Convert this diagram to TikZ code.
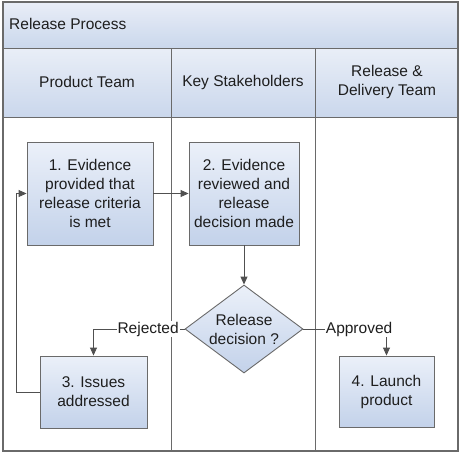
\documentclass[tikz,border=0pt]{standalone}
\usepackage{fontspec}
\setmainfont{Liberation Sans}
\usetikzlibrary{shapes.geometric,arrows.meta}
\definecolor{edge}{HTML}{6A6A6A}
\definecolor{lnk}{HTML}{505050}
\definecolor{gtop}{HTML}{EBF0F9}
\definecolor{gbot}{HTML}{C3D2EA}
\definecolor{htop}{HTML}{E9EEF7}
\definecolor{hbot}{HTML}{CAD7EC}
\definecolor{txt}{HTML}{1E1E1E}
\begin{document}
\begin{tikzpicture}[x=1pt,y=-1pt,
  font=\fontsize{15.5}{19}\selectfont,
  stepbox/.style={draw=edge, line width=0.9pt, top color=gtop, bottom color=gbot,
    align=center, text=txt, inner sep=0pt},
  conn/.style={draw=lnk, line width=0.9pt, -{Triangle[length=8pt,width=7pt]}},
  lbl/.style={fill=white, inner sep=1pt, text=txt},
  lane/.style={draw=edge, line width=0.9pt},
  hdr/.style={text=txt, align=center, inner sep=0pt}]
\useasboundingbox (0,0) rectangle (460,453);
% bands
\fill[top color=htop, bottom color=hbot] (3,2) rectangle (458,48);
\fill[top color=htop, bottom color=hbot] (3,48) rectangle (458,117);
\draw[lane] (3,48) -- (458,48);
\draw[lane] (3,117) -- (458,117);
\draw[lane] (171,48) -- (171,451);
\draw[lane] (315,48) -- (315,451);
\draw[draw=edge, line width=1.8pt] (3,2) rectangle (458,451);
% headers
\node[hdr, anchor=west] (title) at (9,24) {Release Process};
\node[hdr] (h1) at (87,82) {Product Team};
\node[hdr] (h2) at (243,82) {Key Stakeholders};
\node[hdr] (h3) at (387,82) {Release \&\\Delivery Team};
% steps
\node[stepbox, minimum width=126pt, minimum height=103pt] (b1) at (90,193.5)
  {1. Evidence\\provided that\\release criteria\\is met};
\node[stepbox, minimum width=110pt, minimum height=103pt] (b2) at (244,193.5)
  {2. Evidence\\reviewed and\\release\\decision made};
\node[draw=edge, line width=0.9pt, top color=gtop, bottom color=gbot, diamond,
  minimum width=118pt, minimum height=88pt, inner sep=0pt] (dec) at (244,329) {};
\node[hdr] (dect) at (dec.center) {Release\\decision ?};
\node[stepbox, minimum width=107pt, minimum height=72pt] (b3) at (93.5,392)
  {3. Issues\\addressed};
\node[stepbox, minimum width=95pt, minimum height=71pt] (b4) at (386.5,391.5)
  {4. Launch\\product};
% connectors
\coordinate (fb) at (16,392);
\draw[conn] (b1.east) -- (b2.west);
\draw[conn] (b2.south) -- (dec.north);
\draw[conn] (dec.west) -| (b3.north) node[lbl, pos=0.2] (rej) {Rejected};
\draw[conn] (dec.east) -| (b4.north) node[lbl, pos=0.335] (app) {Approved};
\draw[conn] (b3.west) -- (fb) |- (b1.west);
\end{tikzpicture}
\end{document}
